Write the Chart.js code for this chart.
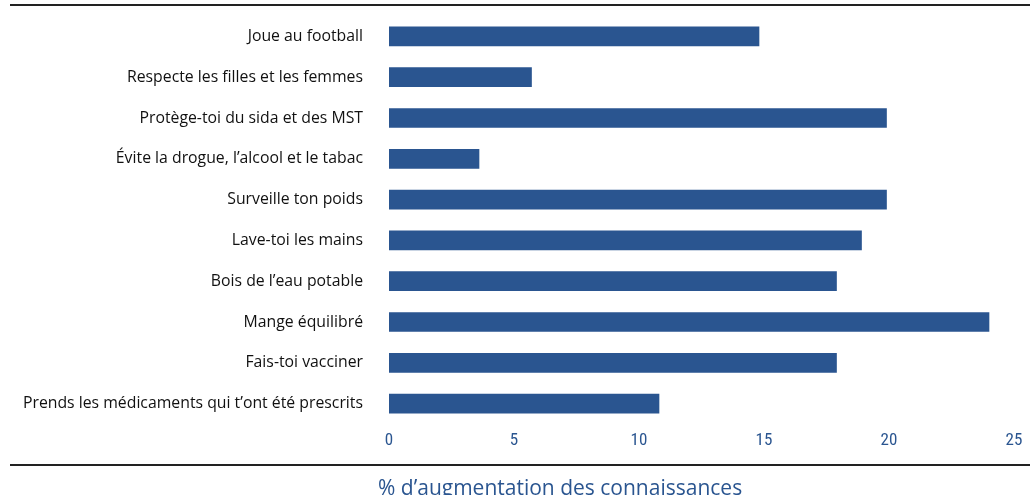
<!DOCTYPE html>
<html lang="fr">
<head>
<meta charset="utf-8">
<script src="https://cdn.jsdelivr.net/npm/chart.js@4/dist/chart.umd.min.js"></script>
<style>
  html, body { margin: 0; padding: 0; background: #fff; overflow: hidden; }
  #wrap { position: relative; width: 1030px; height: 510px; }
  #wrap canvas { display: block; }
  .rule { position: absolute; left: 10px; width: 1020px; background: #222; }
  #axisTitle {
    position: absolute; left: 378px; top: 473px;
    font-family: "Open Sans", "Noto Sans", sans-serif; font-size: 21px;
    line-height: 28px; color: #2a5590; white-space: nowrap;
  }
</style>
</head>
<body>
<div id="wrap">
  <div class="rule" style="top:4px;height:2px;"></div>
  <canvas id="chart" width="1030" height="510"></canvas>
  <div class="rule" style="top:464px;height:2px;"></div>
  <div id="axisTitle"></div>
</div>
<script>
// --- Data ---
const categories = [
  "Joue au football",
  "Respecte les filles et les femmes",
  "Protège-toi du sida et des MST",
  "Évite la drogue, l’alcool et le tabac",
  "Surveille ton poids",
  "Lave-toi les mains",
  "Bois de l’eau potable",
  "Mange équilibré",
  "Fais-toi vacciner",
  "Prends les médicaments qui t’ont été prescrits",
];
const values = [14.8, 5.7, 19.9, 3.6, 19.9, 18.9, 17.9, 24.0, 17.9, 10.8];
const xTicks = [0, 5, 10, 15, 20, 25];
const axisTitle = "% d’augmentation des connaissances";

const BLUE = "#2a5590";

document.getElementById("axisTitle").textContent = axisTitle;

new Chart(document.getElementById("chart"), {
  type: "bar",
  data: {
    labels: categories,
    datasets: [
      {
        data: values,
        backgroundColor: BLUE,
        borderWidth: 0,
        barThickness: 19,
      },
    ],
  },
  options: {
    indexAxis: "y",
    responsive: false,
    animation: false,
    layout: { padding: { top: 16, right: 16, bottom: 0, left: 0 } },
    plugins: { legend: { display: false }, tooltip: { enabled: false } },
    scales: {
      x: {
        min: 0,
        max: 25,
        afterBuildTicks: (scale) => {
          scale.ticks = xTicks.map((v) => ({ value: v }));
        },
        afterFit: (scale) => {
          scale.height = 510 - 424;
        },
        grid: { display: false, drawTicks: false },
        border: { display: false },
        ticks: {
          color: BLUE,
          padding: 7,
          font: { family: "'Liberation Sans Narrow', 'Roboto Condensed', 'Liberation Sans'", size: 17 },
        },
      },
      y: {
        afterFit: (scale) => {
          scale.width = 389;
          scale.paddingTop = 0;
          scale.paddingBottom = 0;
        },
        grid: { display: false, drawTicks: false },
        border: { display: false },
        ticks: {
          color: "#111",
          padding: 26,
          font: { family: "'Open Sans', 'Noto Sans'", size: 15.8 },
        },
      },
    },
  },
});
</script>
</body>
</html>
